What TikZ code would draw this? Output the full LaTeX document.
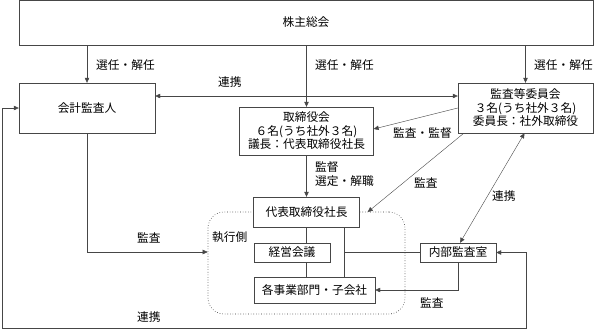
\documentclass[tikz,border=0pt]{standalone}
\usepackage{fontspec}
\setmainfont{Noto Sans CJK JP}
\usetikzlibrary{arrows.meta, positioning, calc, fit, backgrounds}
\definecolor{cLine}{RGB}{70,70,70}
\tikzset{
	orgbox/.style ={rectangle, draw=cLine, fill=white, align=center, inner sep=0pt, font=\fontsize{11.7}{13.5}\selectfont},
	grpbox/.style ={rectangle, draw=black!80, dotted, line width=0.6pt, rounded corners=16pt, inner sep=0pt},
	lbl/.style    ={anchor=west, inner sep=0pt, align=left, font=\fontsize{11.7}{14}\selectfont},
	conn/.style   ={-{Triangle[length=5pt,width=4.5pt]}, draw=cLine},
	bothconn/.style={{Triangle[length=5pt,width=4.5pt]}-{Triangle[length=5pt,width=4.5pt]}, draw=cLine},
	plain/.style  ={draw=cLine},
}
\begin{document}
\begin{tikzpicture}[x=1pt, y=-1pt]
	\useasboundingbox (0,0) rectangle (594,330);
	% executive side (dotted group)
	\node[grpbox, minimum width=197pt, minimum height=102pt] (shikko) at (306.5,263) {};
	\node[lbl] (shikkolbl) at (212,237) {執行側};
	% boxes
	\node[orgbox, minimum width=574pt, minimum height=45pt] (kabu) at (306,22.5) {株主総会};
	\node[orgbox, minimum width=136pt, minimum height=50pt] (kaikei) at (87,108) {会計監査人};
	\node[orgbox, minimum width=134pt, minimum height=48pt] (tori) at (306.5,131) {取締役会\\６名(うち社外３名)\\議長：代表取締役社長};
	\node[orgbox, minimum width=135pt, minimum height=50pt] (iinkai) at (525.5,108) {監査等委員会\\３名(うち社外３名)\\委員長：社外取締役};
	\node[orgbox, minimum width=106pt, minimum height=30pt] (daihyo) at (306.5,212) {代表取締役社長};
	\node[orgbox, minimum width=76pt, minimum height=19pt] (keiei) at (292,252.5) {経営会議};
	\node[orgbox, minimum width=121pt, minimum height=26pt] (jigyo) at (314.5,290) {各事業部門・子会社};
	\node[orgbox, minimum width=76pt, minimum height=19pt] (naibu) at (458,252.5) {内部監査室};
	\coordinate (br) at (344,227);
	\coordinate (cr) at (526,328);
	\coordinate (cl) at (2,328);
	% election
	\foreach \n in {kaikei,tori,iinkai} \draw[conn] (\n.north |- kabu.south) -- (\n.north);
	\node[lbl] at (96,65) {選任・解任};
	\node[lbl] at (315,65) {選任・解任};
	\node[lbl] at (534,65) {選任・解任};
	% cooperation
	\draw[bothconn] ([yshift=12pt]kaikei.east) -- ([yshift=12pt]iinkai.west);
	\node[lbl] at (218,82) {連携};
	\draw[conn] (iinkai.west) -- ([yshift=2pt]tori.east);
	\node[lbl] at (393,133) {監査・監督};
	\draw[conn] ([xshift=6pt]iinkai.south west) -- ([xshift=8pt]daihyo.east);
	\node[lbl] at (414,183) {監査};
	\draw[bothconn] ([xshift=-1pt]iinkai.south) -- ([xshift=2pt]naibu.north);
	\node[lbl] at (492,196) {連携};
	% board -> president
	\draw[conn] (tori.south) -- (daihyo.north);
	\node[lbl, anchor=north west] at (315,161) {監督\\選定・解職};
	% executive structure
	\draw[plain] (daihyo.south) -- (keiei.north -| daihyo.south);
	\draw[plain] (keiei.south -| daihyo.south) -- (jigyo.north -| daihyo.south);
	\draw[plain] (br) -- (br |- jigyo.north);
	\draw[plain] (br |- naibu.west) -- (naibu.west);
	\draw[conn] (naibu.south) |- (jigyo.east);
	\node[lbl] at (420,303) {監査};
	% accounting auditor
	\draw[conn] (kaikei.south) |- ([yshift=11pt]shikko.west);
	\node[lbl] at (137,238) {監査};
	\draw[bothconn] (naibu.east) -| (cr) -- (cl) |- (kaikei.west);
	\node[lbl] at (137,317) {連携};
\end{tikzpicture}
\end{document}
